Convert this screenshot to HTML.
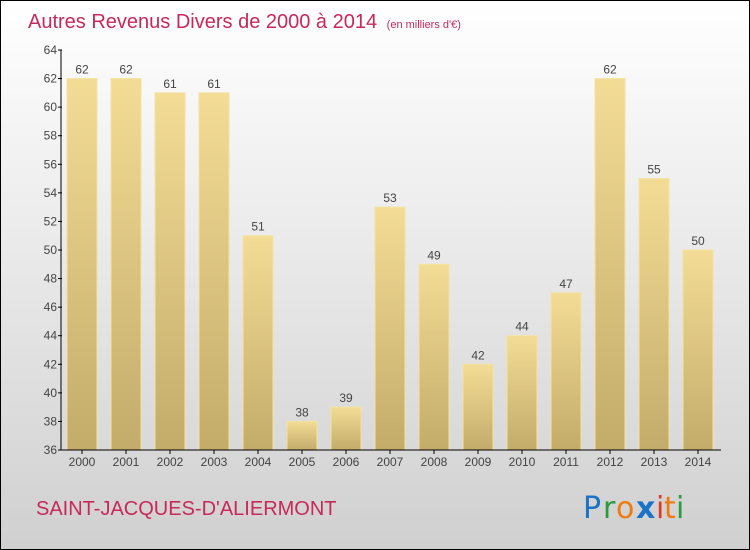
<!DOCTYPE html>
<html><head><meta charset="utf-8"><style>
body{margin:0}
#wrap{position:relative;width:748px;height:548px;border:1px solid #000;background:linear-gradient(#ffffff,#d0d0d0);font-family:"Liberation Sans",sans-serif;overflow:hidden}
</style></head><body>
<div id="wrap">
<svg width="748" height="548" id="svg" font-family="Liberation Sans, sans-serif">
<defs><linearGradient id="bg" x1="0" y1="0" x2="0" y2="1"><stop offset="0" stop-color="#f3dc95"/><stop offset="1" stop-color="#c3ac6a"/></linearGradient></defs>
<text x="27" y="27" font-size="20" fill="#c8285a">Autres Revenus Divers de 2000 à 2014 <tspan font-size="11" dx="4">(en milliers d'€)</tspan></text>
<g id="bars"></g>
<g id="axes"></g>
<text x="35" y="514" font-size="20" fill="#c8285a">SAINT-JACQUES-D'ALIERMONT</text>
<g font-size="30" font-family="'DejaVu Sans',sans-serif">
<text x="582" y="517" fill="#1a73c8">P</text><text x="602" y="517" fill="#2a9a3a">r</text><text x="615" y="517" fill="#f07a10">o</text><text x="635" y="517" fill="#1a73c8" font-weight="bold">x</text><text x="655" y="517" fill="#e03a20">i</text><text x="663" y="517" fill="#f07a10">t</text><text x="675" y="517" fill="#2a9a3a">i</text>
</g>
</svg></div>
<script>
const categories=["2000","2001","2002","2003","2004","2005","2006","2007","2008","2009","2010","2011","2012","2013","2014"];
const values=[62,62,61,61,51,38,39,53,49,42,44,47,62,55,50];
const ticks=[36,38,40,42,44,46,48,50,52,54,56,58,60,62,64];
const NS="http://www.w3.org/2000/svg";
const y0=449,y1=49,vmin=36,vmax=64;
function yS(v){return y0-(v-vmin)/(vmax-vmin)*(y0-y1);}
function xS(i){return 81+i*44;}
function mk(t,a,p){const e=document.createElementNS(NS,t);for(const k in a)e.setAttribute(k,a[k]);p.appendChild(e);return e;}
const bars=document.getElementById('bars'),axes=document.getElementById('axes');
values.forEach((v,i)=>{
 const r=mk('rect',{x:xS(i)-15,y:yS(v),width:30,height:y0-yS(v),fill:'url(#bg)',stroke:'#f3e3a0','stroke-width':1},bars);
 
 
 const t=mk('text',{x:xS(i),y:yS(v)-5,'text-anchor':'middle','font-size':12,fill:'#444'},bars);t.textContent=v;
 
 
 const c=mk('text',{x:xS(i),y:y0+16,'text-anchor':'middle','font-size':12,fill:'#444'},axes);c.textContent=categories[i];
 
 
 mk('line',{x1:xS(i),x2:xS(i),y1:y0,y2:y0+4,stroke:'#000'},axes);
});
const ya=mk('line',{x1:60,x2:60,y1:y1,y2:y0,stroke:'#000'},axes);


const xa=mk('line',{x1:60,x2:720,y1:y0,y2:y0,stroke:'#000'},axes);


ticks.forEach(v=>{
 mk('line',{x1:57,x2:61,y1:yS(v),y2:yS(v),stroke:'#000'},axes);
 const t=mk('text',{x:56,y:yS(v)+4,'text-anchor':'end','font-size':12,fill:'#444'},axes);t.textContent=v;
 
 
});
</script>
</body></html>
